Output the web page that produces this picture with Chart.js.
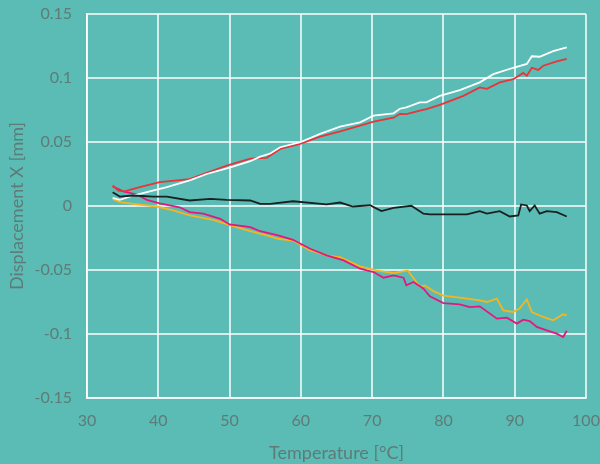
<!DOCTYPE html>
<html>
<head>
<meta charset="utf-8">
<script src="https://cdn.jsdelivr.net/npm/chart.js@4"></script>
<style>
  html, body { margin: 0; padding: 0; background: #5abcb5; }
  #wrap { width: 600px; height: 464px; }
</style>
</head>
<body>
<div id="wrap"><canvas id="chart"></canvas></div>
<script>
// temperature [°C] / displacement X [mm] per curve
const whiteT = [33.6, 34.6, 36.5, 38.8, 41.2, 44.4, 46.8, 50, 52.9, 54.3, 55.7, 57.1, 59.9, 62.7, 65.5, 68.3, 70.2, 73, 73.9, 74.8, 76.7, 77.6, 79.5, 82.3, 85.1, 87, 89.8, 91.7, 92.4, 93.5, 95.4, 97.3];
const whiteX = [0.0064, 0.0048, 0.0082, 0.0115, 0.0147, 0.020, 0.025, 0.030, 0.035, 0.0386, 0.041, 0.0459, 0.0498, 0.0563, 0.062, 0.0654, 0.0706, 0.0724, 0.076, 0.077, 0.081, 0.081, 0.086, 0.0906, 0.0966, 0.103, 0.108, 0.111, 0.117, 0.1166, 0.121, 0.124];

const redT = [33.6, 34.4, 35.3, 36, 37.4, 40.2, 44.4, 46.8, 49.6, 52.9, 55.2, 57.1, 59.9, 62.7, 65.5, 68.3, 70.2, 73, 73.9, 74.8, 76.7, 77.6, 79.5, 82.8, 85.1, 86.1, 87.9, 89.8, 91.2, 91.7, 92.4, 93.3, 94, 95.9, 97.3];
const redX = [0.016, 0.012, 0.0115, 0.0126, 0.0147, 0.0186, 0.021, 0.026, 0.0316, 0.037, 0.0376, 0.0446, 0.0485, 0.0542, 0.0583, 0.0628, 0.066, 0.069, 0.072, 0.0718, 0.0745, 0.0757, 0.079, 0.086, 0.0927, 0.0915, 0.0966, 0.0991, 0.104, 0.1018, 0.108, 0.1063, 0.1096, 0.113, 0.115];

const blackT = [33.6, 34.6, 36.5, 39.3, 41.2, 44.4, 47.3, 49.6, 52.9, 54.3, 55.7, 58.9, 63.6, 65.5, 67.3, 69.7, 71.3, 73, 75.5, 77.2, 78.1, 80.4, 83.3, 85.1, 86.1, 87.9, 89.3, 90.5, 90.9, 91.7, 92.1, 92.8, 93.5, 94.5, 95.9, 97.3];
const blackX = [0.0108, 0.0074, 0.0082, 0.0074, 0.0074, 0.0043, 0.0056, 0.0048, 0.0043, 0.0017, 0.0017, 0.0037, 0.0012, 0.0027, -0.0004, 0.0006, -0.004, -0.0014, 0.0002, -0.006, -0.0066, -0.0066, -0.0066, -0.004, -0.006, -0.004, -0.0082, -0.0074, 0.0012, 0.0004, -0.004, 0.0004, -0.006, -0.004, -0.0048, -0.0082];

const yellowT = [33.6, 34.6, 36.5, 39.8, 42.1, 44.4, 47.7, 50, 52.9, 55.2, 56.8, 58.9, 61.3, 63.6, 65.5, 68.3, 70.6, 73, 75, 76.2, 76.7, 77.4, 78.6, 80, 82.3, 85.1, 86.1, 87.5, 88.4, 89.8, 90.7, 91.7, 92.4, 94, 95.4, 96.8, 97.3];
const yellowX = [0.0056, 0.003, 0.0017, -0.0004, -0.0035, -0.0074, -0.0108, -0.015, -0.0197, -0.023, -0.0256, -0.027, -0.0347, -0.0386, -0.04, -0.0472, -0.0503, -0.0524, -0.0503, -0.0594, -0.063, -0.062, -0.0665, -0.07, -0.0716, -0.0737, -0.075, -0.0724, -0.0815, -0.0828, -0.080, -0.073, -0.0828, -0.0867, -0.0893, -0.0846, -0.0854];

const magentaT = [33.6, 35.1, 37, 38.4, 40.2, 43, 44.4, 46.3, 48.7, 50, 52.9, 54.3, 56.8, 58.9, 61.3, 63.6, 66, 68.3, 70.2, 71.6, 73, 74.4, 74.8, 75.8, 77.2, 78.1, 80, 82.3, 83.7, 85.1, 87.5, 88.9, 90.3, 91.2, 92.1, 93.1, 94.5, 95.9, 96.8, 97.3];
const magentaX = [0.0152, 0.0115, 0.009, 0.0048, 0.002, -0.001, -0.0048, -0.006, -0.01, -0.0144, -0.0165, -0.0197, -0.023, -0.0264, -0.0334, -0.0386, -0.0425, -0.049, -0.0516, -0.056, -0.0542, -0.056, -0.062, -0.0594, -0.0646, -0.0706, -0.0758, -0.0768, -0.079, -0.0784, -0.088, -0.0872, -0.0919, -0.0888, -0.0899, -0.0945, -0.0971, -0.0997, -0.1023, -0.0975];

const xTicks = [30, 40, 50, 60, 70, 80, 90, 100];
const yTickLabels = { '0.15': '0.15', '0.1': '0.1', '0.05': '0.05', '0': '0', '-0.05': '-0.05', '-0.1': '-0.1', '-0.15': '-0.15' };

const pts = (t, v) => t.map((x, i) => ({ x: x, y: v[i] }));

const textCol = '#5f7b78';
const fontFam = "Lato, 'Open Sans', sans-serif";

function line(label, t, v, color) {
    return {
        label: label,
        data: pts(t, v),
        borderColor: color,
        borderWidth: 1.8,
        pointRadius: 0,
        tension: 0,
        fill: false
    };
}

const ctx = document.getElementById('chart').getContext('2d');
new Chart(ctx, {
    type: 'line',
    data: {
        datasets: [
            line('black', blackT, blackX, '#1b1f1f'),
            line('white', whiteT, whiteX, '#ffffff'),
            line('red', redT, redX, '#e8353a'),
            line('magenta', magentaT, magentaX, '#e5177f'),
            line('yellow', yellowT, yellowX, '#f7b51d')
        ]
    },
    options: {
        responsive: true,
        maintainAspectRatio: false,
        animation: false,
        layout: { padding: { top: 14, right: 14, left: 0, bottom: 0 } },
        plugins: {
            legend: { display: false },
            tooltip: { enabled: false }
        },
        scales: {
            x: {
                type: 'linear',
                min: 30,
                max: 100,
                afterBuildTicks: s => { s.ticks = xTicks.map(v => ({ value: v })); },
                afterFit: s => { s.height = 66; s.paddingLeft = 0; s.paddingRight = 0; },
                grid: { color: 'rgba(255,255,255,0.75)', lineWidth: 2, drawTicks: false },
                border: { color: '#ffffff', width: 1.5 },
                ticks: { color: textCol, padding: 13, font: { family: fontFam, size: 16 } },
                title: { display: true, text: 'Temperature [°C]', color: textCol, padding: { top: 22, bottom: 0 }, font: { family: fontFam, size: 18 } }
            },
            y: {
                min: -0.15,
                max: 0.15,
                ticks: {
                    stepSize: 0.05,
                    color: textCol,
                    padding: 15,
                    font: { family: fontFam, size: 16 },
                    callback: v => yTickLabels[String(Math.round(v * 100) / 100)] ?? ''
                },
                afterFit: s => { s.width = 87; s.paddingTop = 0; s.paddingBottom = 0; },
                grid: { color: 'rgba(255,255,255,0.75)', lineWidth: 2, drawTicks: false },
                border: { color: '#ffffff', width: 1.5 },
                title: { display: true, text: 'Displacement X [mm]', color: textCol, padding: { top: 6, bottom: 2 }, font: { family: fontFam, size: 18 } }
            }
        }
    }
});
</script>
</body>
</html>
